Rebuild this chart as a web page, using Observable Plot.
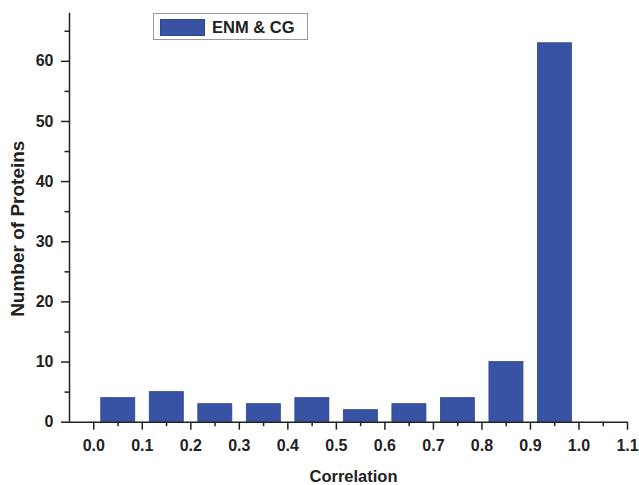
<!DOCTYPE html>
<html><head><meta charset="utf-8">
<script src="https://cdn.jsdelivr.net/npm/d3@7"></script>
<script src="https://cdn.jsdelivr.net/npm/@observablehq/plot@0.6"></script>
<style>
body{margin:0;background:#fff;font-family:"Liberation Sans",Arial,sans-serif}
#wrap{position:relative;width:639px;height:485px}
#legend{position:absolute;left:153px;top:13px;width:153px;height:25px;border:1.5px solid #9a9a9a;background:#fff}
#legend .sw{position:absolute;left:6px;top:5px;width:45px;height:17px;background:#3953a4;border:1px solid #2e4590;box-sizing:border-box}
#legend .lb{position:absolute;left:58px;top:3px;font-size:16.5px;font-weight:bold;color:#222;line-height:20px}
</style>
</head><body><div id="wrap"></div>
<script>
const binStarts = [0.0, 0.1, 0.2, 0.3, 0.4, 0.5, 0.6, 0.7, 0.8, 0.9];
const counts = [4, 5, 3, 3, 4, 2, 3, 4, 10, 63];
const xTicks = [0.0, 0.1, 0.2, 0.3, 0.4, 0.5, 0.6, 0.7, 0.8, 0.9, 1.0, 1.1];
const xMinorTicks = [0.05, 0.15, 0.25, 0.35, 0.45, 0.55, 0.65, 0.75, 0.85, 0.95, 1.05];
const yTicks = [0, 10, 20, 30, 40, 50, 60];
const yMinorTicks = [5, 15, 25, 35, 45, 55, 65];
const seriesName = "ENM & CG";
const xTitle = "Correlation";
const yTitle = "Number of Proteins";

const data = binStarts.map((b, i) => ({x1: b, x2: Math.round((b + 0.1) * 10) / 10, y: counts[i]}));
const ink = "#222";

const chart = Plot.plot({
  width: 639, height: 485,
  marginLeft: 69, marginRight: 12, marginTop: 12.7, marginBottom: 63.3,
  x: {domain: [-0.05, 1.1]},
  y: {domain: [0, 68]},
  style: {fontFamily: "'Liberation Sans', Arial, sans-serif", fontSize: "16px", fontWeight: "bold", color: ink, background: "#fff"},
  marks: [
    Plot.rectY(data, {x1: "x1", x2: "x2", y: "y", fill: "#3953a4", stroke: "#2e4590", strokeWidth: 0.8, insetLeft: 7.5, insetRight: 7}),
    Plot.axisX(xTicks, {tickSize: 8, tickPadding: 9, tickFormat: d3.format(".1f"), label: null, strokeWidth: 1.5, fontSize: 16, fontWeight: "bold"}),
    Plot.axisX(xMinorTicks, {tickSize: 4.5, tickFormat: () => "", label: null, strokeWidth: 1.5}),
    Plot.axisY(yTicks, {tickSize: 8, tickPadding: 8, label: null, strokeWidth: 1.5, fontSize: 16, fontWeight: "bold"}),
    Plot.axisY(yMinorTicks, {tickSize: 4.5, tickFormat: () => "", label: null, strokeWidth: 1.5}),
    Plot.ruleY([0], {stroke: ink, strokeWidth: 1.5}),
    Plot.ruleX([-0.05], {y1: 0, y2: 68, stroke: ink, strokeWidth: 1.5}),
    Plot.text([xTitle], {frameAnchor: "bottom", textAnchor: "middle", lineAnchor: "middle", dx: 5, dy: 55, fontSize: 16.5, fontWeight: "bold", fill: ink}),
    Plot.text([yTitle], {frameAnchor: "left", textAnchor: "middle", lineAnchor: "middle", dx: -52, dy: 11, rotate: -90, fontSize: 19, fontWeight: "bold", fill: ink})
  ]
});

const wrap = document.getElementById("wrap");
wrap.appendChild(chart);
const legend = document.createElement("div");
legend.id = "legend";
legend.innerHTML = '<div class="sw"></div><div class="lb"></div>';
legend.querySelector(".lb").textContent = seriesName;
wrap.appendChild(legend);
</script>
</body></html>
